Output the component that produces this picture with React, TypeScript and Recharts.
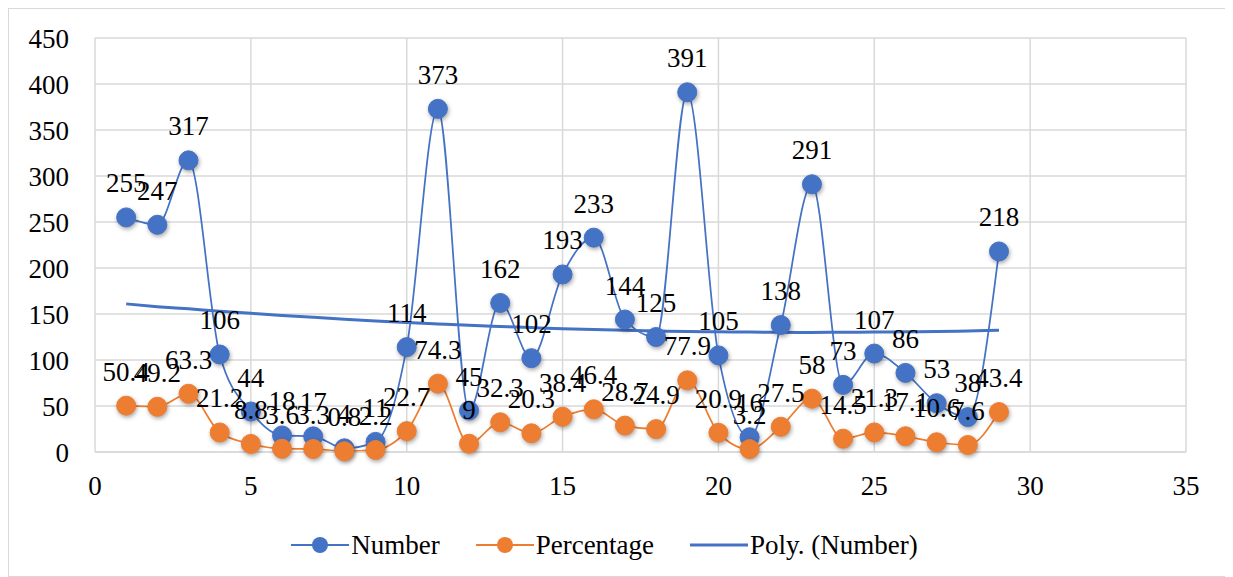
import React from 'react';
import { LineChart, Line, XAxis, YAxis, CartesianGrid, Legend, LabelList } from 'recharts';

const xValues = [1, 2, 3, 4, 5, 6, 7, 8, 9, 10, 11, 12, 13, 14, 15, 16, 17, 18, 19, 20, 21, 22, 23, 24, 25, 26, 27, 28, 29];
const numberValues = [255, 247, 317, 106, 44, 18, 17, 4, 11, 114, 373, 45, 162, 102, 193, 233, 144, 125, 391, 105, 16, 138, 291, 73, 107, 86, 53, 38, 218];
const percentageValues = [50.4, 49.2, 63.3, 21.2, 8.8, 3.6, 3.3, 0.8, 2.2, 22.7, 74.3, 9, 32.3, 20.3, 38.4, 46.4, 28.7, 24.9, 77.9, 20.9, 3.2, 27.5, 58, 14.5, 21.3, 17.1, 10.6, 7.6, 43.4];
// trendline
const polyValues = [161, 158, 155.6, 153, 150.7, 148.5, 146.4, 144.4, 142.5, 140.8, 139.2, 137.7, 136.4, 135.2, 134.1, 133.1, 132.3, 131.6, 131, 130.6, 130.3, 130.1, 130, 130.1, 130.3, 130.6, 131, 131.6, 132.3];
const xTicks = [0, 5, 10, 15, 20, 25, 30, 35];
const yTicks = [0, 50, 100, 150, 200, 250, 300, 350, 400, 450];

const data = xValues.map((x, i) => ({
  x,
  number: numberValues[i],
  percentage: percentageValues[i],
  poly: polyValues[i],
}));

const BLUE = '#4472C4';
const ORANGE = '#ED7D31';
const FONT = '"Liberation Serif", "Times New Roman", serif';
const FS = 27;

const makeDot = (color: string) => (props: any) => {
  const { cx, cy, index } = props;
  if (cx == null || cy == null) return null;
  return (
    <circle
      key={`dot-${color}-${index}`}
      cx={cx}
      cy={cy}
      r={9.5}
      fill={color}
      stroke={color}
      strokeWidth={1}
      style={{ filter: 'drop-shadow(1px 2px 2px rgba(0,0,0,0.35))' }}
    />
  );
};

const LegendIcon = ({ color, marker }: { color: string; marker: boolean }) => (
  <svg width={58} height={20} style={{ marginRight: 2 }}>
    <line x1={0} y1={10} x2={58} y2={10} stroke={color} strokeWidth={marker ? 2 : 3} />
    {marker && <circle cx={29} cy={10} r={8} fill={color} />}
  </svg>
);

const LegendContent = () => (
  <div style={{ display: 'flex', justifyContent: 'center', alignItems: 'center', height: 40, fontFamily: FONT, fontSize: FS, color: '#000', paddingLeft: 14 }}>
    <div style={{ display: 'flex', alignItems: 'center', marginRight: 36 }}>
      <LegendIcon color={BLUE} marker />
      <span>Number</span>
    </div>
    <div style={{ display: 'flex', alignItems: 'center', marginRight: 36 }}>
      <LegendIcon color={ORANGE} marker />
      <span>Percentage</span>
    </div>
    <div style={{ display: 'flex', alignItems: 'center' }}>
      <LegendIcon color={BLUE} marker={false} />
      <span>Poly. (Number)</span>
    </div>
  </div>
);

const tickStyle = { fontFamily: FONT, fontSize: FS, fill: '#000' };

export default function App() {
  return (
    <div style={{ width: 1220, height: 567, border: '1px solid #d9d9d9', background: '#fff', fontFamily: FONT }}>
      <LineChart width={1220} height={567} data={data} margin={{ top: 29, right: 43, left: 0, bottom: 11 }}>
        <CartesianGrid stroke="#d9d9d9" strokeWidth={1.5} />
        <XAxis
          dataKey="x"
          type="number"
          domain={[0, 35]}
          ticks={xTicks}
          height={73}
          tickLine={false}
          axisLine={{ stroke: '#d9d9d9', strokeWidth: 1.5 }}
          tickMargin={18}
          tick={tickStyle}
          interval={0}
        />
        <YAxis
          type="number"
          domain={[0, 450]}
          ticks={yTicks}
          width={86}
          tickLine={false}
          axisLine={false}
          tickMargin={20}
          tick={tickStyle}
          interval={0}
        />
        <Legend verticalAlign="bottom" height={40} content={<LegendContent />} />
        <Line
          dataKey="number"
          type="monotone"
          stroke={BLUE}
          strokeWidth={1.75}
          dot={makeDot(BLUE)}
          activeDot={false}
          isAnimationActive={false}
        >
          <LabelList dataKey="number" position="top" offset={25} fontFamily={FONT} fontSize={FS} fill="#000" />
        </Line>
        <Line
          dataKey="percentage"
          type="monotone"
          stroke={ORANGE}
          strokeWidth={1.75}
          dot={makeDot(ORANGE)}
          activeDot={false}
          isAnimationActive={false}
        >
          <LabelList dataKey="percentage" position="top" offset={25} fontFamily={FONT} fontSize={FS} fill="#000" />
        </Line>
        <Line
          dataKey="poly"
          type="monotone"
          stroke={BLUE}
          strokeWidth={3}
          dot={false}
          activeDot={false}
          isAnimationActive={false}
        />
      </LineChart>
    </div>
  );
}
